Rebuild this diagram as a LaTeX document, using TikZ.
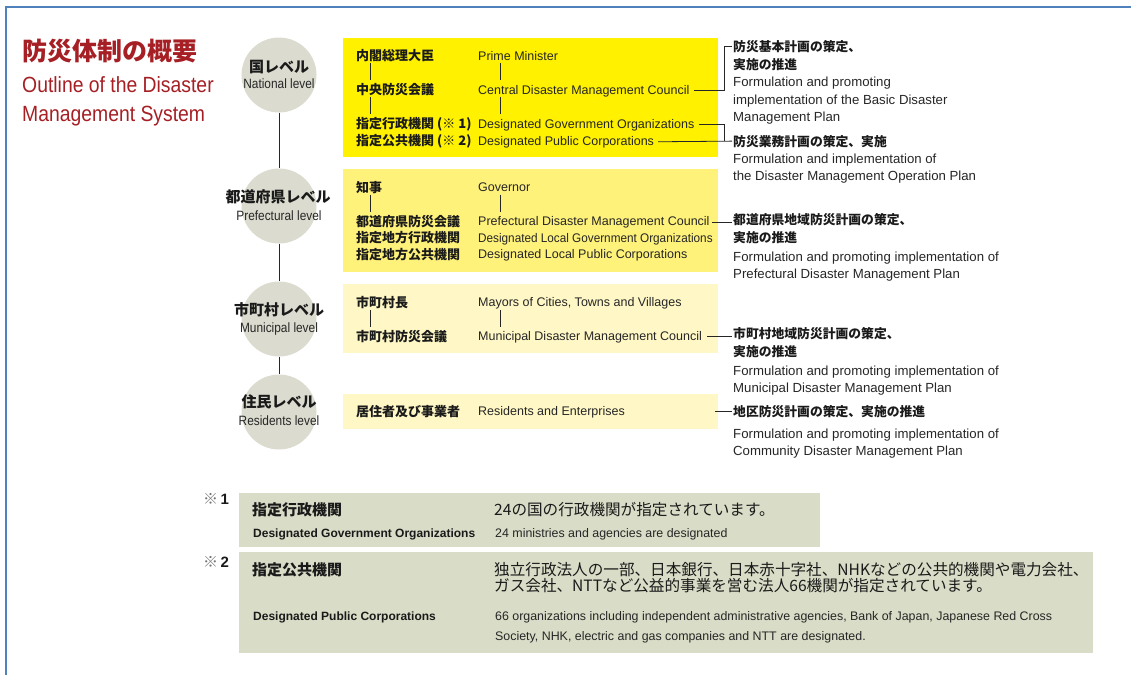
\documentclass[tikz,border=0pt]{standalone}
\usepackage{fontspec}
\setmainfont{Liberation Sans}
\newfontfamily\jpf{Noto Sans CJK JP}
\newfontfamily\enc{Liberation Sans}[FakeStretch=0.94]
\newfontfamily\ent{Liberation Sans}[FakeStretch=0.88]
\definecolor{titlered}{HTML}{A51F24}
\definecolor{yA}{HTML}{FFF100}
\definecolor{yB}{HTML}{FFF27A}
\definecolor{yC}{HTML}{FFF8C6}
\definecolor{circ}{HTML}{DCDBCF}
\definecolor{nbox}{HTML}{D9DCC6}
\definecolor{bord}{HTML}{4F81BD}
\definecolor{jptxt}{HTML}{1A1A1A}
\definecolor{entxt}{HTML}{262626}
\tikzset{
  jp/.style={anchor=base west, inner sep=0pt, text=jptxt, font=\jpf\bfseries\fontsize{13}{15}\selectfont},
  en/.style={anchor=base west, inner sep=0pt, text=entxt, font=\fontsize{12.5}{15}\selectfont},
  rjp/.style={anchor=base west, inner sep=0pt, text=jptxt, font=\jpf\bfseries\fontsize{12.8}{15}\selectfont},
  ren/.style={anchor=base west, inner sep=0pt, text=entxt, font=\fontsize{13.2}{15}\selectfont},
  lvl/.style={circle, fill=circ, minimum size=75pt, inner sep=0pt},
  lvjp/.style={anchor=base, inner sep=0pt, text=jptxt, font=\jpf\bfseries\fontsize{15}{16}\selectfont},
  lven/.style={anchor=base, inner sep=0pt, text=entxt, font=\ent\fontsize{13.5}{14}\selectfont},
  ybox/.style={anchor=north west, inner sep=0pt, minimum width=375pt},
  conn/.style={draw=black!85, line width=0.8pt},
  njp/.style={anchor=base west, inner sep=0pt, text=jptxt, font=\jpf\bfseries\fontsize{15}{17}\selectfont},
  njr/.style={anchor=base west, inner sep=0pt, text=jptxt, font=\jpf\fontsize{15.6}{17}\selectfont},
  nen/.style={anchor=base west, inner sep=0pt, text=jptxt, font=\bfseries\fontsize{12}{14}\selectfont},
  nenr/.style={anchor=base west, inner sep=0pt, text=entxt, font=\fontsize{12.4}{14}\selectfont},
  nmark/.style={anchor=west, inner sep=0pt, text=jptxt, font=\bfseries\fontsize{15}{17}\selectfont},
  notebox/.style={anchor=north west, inner sep=0pt, fill=nbox},
  ttl/.style={anchor=base west, inner sep=0pt, text=titlered}
}
\begin{document}
\begin{tikzpicture}[x=1pt,y=-1pt]
\useasboundingbox (0,0) rectangle (1131,675);
% frame
\draw[bord, line width=2.5pt] (6,675) -- (6,7) -- (1131,7);

% title
\node[ttl, font=\jpf\bfseries\fontsize{25}{28}\selectfont] (t1) at (22,60) {防災体制の概要};
\node[ttl, font=\ent\fontsize{22}{24}\selectfont] (t2) at (22,92) {Outline of the Disaster};
\node[ttl, font=\ent\fontsize{22}{24}\selectfont] (t3) at (22,121) {Management System};

% level circles
\node[lvl] (nat) at (279,75) {};
\node[lvl] (pref) at (279,206) {};
\node[lvl] (mun) at (279,319) {};
\node[lvl] (res) at (279,412) {};
\draw[conn] (nat.south) -- (pref.north);
\draw[conn] (pref.south) -- (mun.north);
\draw[conn] (mun.south) -- (res.north);
\node[lvjp] (natj) at (279,72) {国レベル};
\node[lven] (nate) at (279,88) {National level};
\node[lvjp] (prefj) at (278,202) {都道府県レベル};
\node[lven] (prefe) at (279,220) {Prefectural level};
\node[lvjp] (munj) at (279,315) {市町村レベル};
\node[lven] (mune) at (279,332) {Municipal level};
\node[lvjp] (resj) at (279,407) {住民レベル};
\node[lven] (rese) at (279,425) {Residents level};

% boxes
\node[ybox, fill=yA, minimum height=119pt] (natbox) at (343,38) {};
\node[ybox, fill=yB, minimum height=103pt] (prefbox) at (343,169) {};
\node[ybox, fill=yC, minimum height=69pt] (munbox) at (343,284) {};
\node[ybox, fill=yC, minimum height=35pt] (resbox) at (343,394) {};

% national
\node[jp] (pmj) at (356,60) {内閣総理大臣};
\node[en] (pme) at (478,60) {Prime Minister};
\node[jp] (cdj) at (356,94) {中央防災会議};
\node[en] (cde) at (478,94) {Central Disaster Management Council};
\node[jp] (dgj) at (356,128) {指定行政機関 (※ 1)};
\node[en] (dge) at (478,128) {Designated Government Organizations};
\node[jp] (dpj) at (356,145) {指定公共機関 (※ 2)};
\node[en] (dpe) at (478,145) {Designated Public Corporations};
\draw[conn, shorten <=1.5pt, shorten >=2.5pt] ([xshift=14pt]pmj.south west) -- ([xshift=14pt]cdj.north west);
\draw[conn, shorten <=1.5pt, shorten >=2.5pt] ([xshift=14pt]cdj.south west) -- ([xshift=14pt]dgj.north west);
\draw[conn, shorten <=1.5pt, shorten >=2.5pt] ([xshift=22pt]pme.west |- pmj.south) -- ([xshift=22pt]cde.west |- cdj.north);
\draw[conn, shorten <=1.5pt, shorten >=2.5pt] ([xshift=22pt]cde.west |- cdj.south) -- ([xshift=22pt]dge.west |- dgj.north);

\node[rjp] (p1a) at (733,51.5) {防災基本計画の策定、};
\node[rjp] (p1b) at (733,69) {実施の推進};
\node[ren] (p1c) at (733,86.5) {Formulation and promoting};
\node[ren] (p1d) at (733,104) {implementation of the Basic Disaster};
\node[ren] (p1e) at (733,121) {Management Plan};
\node[rjp] (p2a) at (733,146) {防災業務計画の策定、実施};
\node[ren] (p2b) at (733,163) {Formulation and implementation of};
\node[ren] (p2c) at (733,180) {the Disaster Management Operation Plan};
\draw[conn] ([xshift=4pt]cde.east) -| ([xshift=-9pt]p1a.west) -- ([xshift=-1pt]p1a.west);
\draw[conn] ([xshift=4pt]dge.east) -| ([xshift=-9pt]p2a.west);
\draw[conn] ([xshift=4pt]dpe.east) -- ([xshift=-1pt]p2a.west);

% prefectural
\node[jp] (gvj) at (356,192) {知事};
\node[en] (gve) at (478,191) {Governor};
\node[jp] (pcj) at (356,226) {都道府県防災会議};
\node[en] (pce) at (478,225.5) {Prefectural Disaster Management Council};
\node[jp] (plgj) at (356,242.5) {指定地方行政機関};
\node[en, font=\enc\fontsize{12.5}{15}\selectfont] (plge) at (478,242) {Designated Local Government Organizations};
\node[jp] (plpj) at (356,259) {指定地方公共機関};
\node[en] (plpe) at (478,258.5) {Designated Local Public Corporations};
\draw[conn, shorten <=1.5pt, shorten >=2.5pt] ([xshift=14pt]gvj.south west) -- ([xshift=14pt]pcj.north west);
\draw[conn, shorten <=1.5pt, shorten >=2.5pt] ([xshift=22pt]gve.west |- gvj.south) -- ([xshift=22pt]pce.west |- pcj.north);
\node[rjp] (p3a) at (733,224.5) {都道府県地域防災計画の策定、};
\node[rjp] (p3b) at (733,242) {実施の推進};
\node[ren] (p3c) at (733,261) {Formulation and promoting implementation of};
\node[ren] (p3d) at (733,278) {Prefectural Disaster Management Plan};
\draw[conn] ([xshift=2pt]pce.east) -- ([xshift=-1pt]pce.east -| p3a.west);

% municipal
\node[jp] (myj) at (356,307) {市町村長};
\node[en] (mye) at (478,306) {Mayors of Cities, Towns and Villages};
\node[jp] (mcj) at (356,341) {市町村防災会議};
\node[en] (mce) at (478,340) {Municipal Disaster Management Council};
\draw[conn, shorten <=1.5pt, shorten >=2.5pt] ([xshift=14pt]myj.south west) -- ([xshift=14pt]mcj.north west);
\draw[conn, shorten <=1.5pt, shorten >=2.5pt] ([xshift=22pt]mye.west |- myj.south) -- ([xshift=22pt]mce.west |- mcj.north);
\node[rjp] (p4a) at (733,338) {市町村地域防災計画の策定、};
\node[rjp] (p4b) at (733,356) {実施の推進};
\node[ren] (p4c) at (733,375) {Formulation and promoting implementation of};
\node[ren] (p4d) at (733,392) {Municipal Disaster Management Plan};
\draw[conn] ([xshift=5pt]mce.east) -- ([xshift=-1pt]mce.east -| p4a.west);

% residents
\node[jp] (rsj) at (356,416) {居住者及び事業者};
\node[en] (rse) at (478,415) {Residents and Enterprises};
\node[rjp] (p5a) at (733,416) {地区防災計画の策定、実施の推進};
\node[ren] (p5b) at (733,438) {Formulation and promoting implementation of};
\node[ren] (p5c) at (733,455) {Community Disaster Management Plan};
\draw[conn] ([xshift=-3pt]resbox.east) -- ([xshift=-1pt]resbox.east -| p5a.west);

% notes
\node[notebox, minimum width=581pt, minimum height=54pt] (note1) at (239,492.7) {};
\node[notebox, minimum width=854pt, minimum height=101.3pt] (note2) at (239,551.7) {};
\node[nmark] (m1) at (203,498.5) {{\jpf\mdseries\color{black!55}※}\,1};
\node[nmark] (m2) at (203,562) {{\jpf\mdseries\color{black!55}※}\,2};
\node[njp] (n1j) at (252,515.5) {指定行政機関};
\node[njr] (n1t) at (494,515.5) {24の国の行政機関が指定されています。};
\node[nen] (n1e) at (253,537) {Designated Government Organizations};
\node[nenr] (n1s) at (495,537) {24 ministries and agencies are designated};
\node[njp] (n2j) at (252,575) {指定公共機関};
\node[njr] (n2t1) at (494,575) {独立行政法人の一部、日本銀行、日本赤十字社、NHKなどの公共的機関や電力会社、};
\node[njr] (n2t2) at (494,591) {ガス会社、NTTなど公益的事業を営む法人66機関が指定されています。};
\node[nen] (n2e) at (253,620) {Designated Public Corporations};
\node[nenr] (n2s1) at (495,620) {66 organizations including independent administrative agencies, Bank of Japan, Japanese Red Cross};
\node[nenr] (n2s2) at (495,640) {Society, NHK, electric and gas companies and NTT are designated.};
\end{tikzpicture}
\end{document}
